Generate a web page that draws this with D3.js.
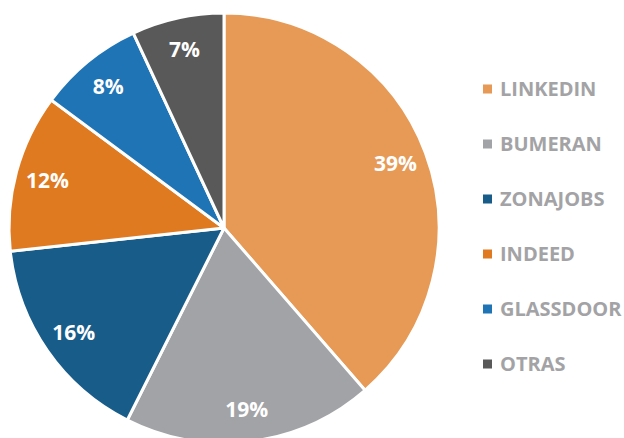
<!DOCTYPE html>
<html><head><meta charset="utf-8">
<script src="https://cdn.jsdelivr.net/npm/d3@7"></script>
<style>body{margin:0;background:#fff}</style>
</head><body><svg id="c" width="624" height="438"></svg>
<script>
const categories = ["LINKEDIN","BUMERAN","ZONAJOBS","INDEED","GLASSDOOR","OTRAS"];
const values = [39,19,16,12,8,7];
const colors = ["#E69A55","#A2A3A6","#185C8A","#DF7A20","#1F74B5","#595959"];

const svg = d3.select("#c");
const cx = 224, cy = 228, R = 215;
const pie = d3.pie().sort(null).value(d=>d)(values);
const arc = d3.arc().innerRadius(0).outerRadius(R);
const labelArc = d3.arc().innerRadius(183).outerRadius(183);
const g = svg.append("g").attr("transform",`translate(${cx},${cy})`);
g.selectAll("path").data(pie).join("path")
  .attr("d",arc).attr("fill",(d,i)=>colors[i])
  .attr("stroke","#fff").attr("stroke-width",3).attr("stroke-linejoin","round");
g.selectAll("text").data(pie).join("text")
  .attr("transform",d=>`translate(${labelArc.centroid(d)})`)
  .attr("text-anchor","middle").attr("dy","0.36em")
  .attr("fill","#fff").attr("font-family","'Open Sans', sans-serif")
  .attr("font-weight","bold").attr("font-size",21)
  .text(d=>d.value+"%");

const leg = svg.append("g");
const ly = d3.scalePoint().domain(categories).range([89,364]);
categories.forEach((c,i)=>{
  leg.append("rect").attr("x",483).attr("y",ly(c)-4.5).attr("width",9).attr("height",9).attr("fill",colors[i]);
  leg.append("text").attr("x",500).attr("y",ly(c)).attr("dy","0.36em")
    .attr("fill","#A3A3A6").attr("font-family","'Open Sans', sans-serif")
    .attr("font-weight","bold").attr("font-size",20).text(c);
});
</script></body></html>
